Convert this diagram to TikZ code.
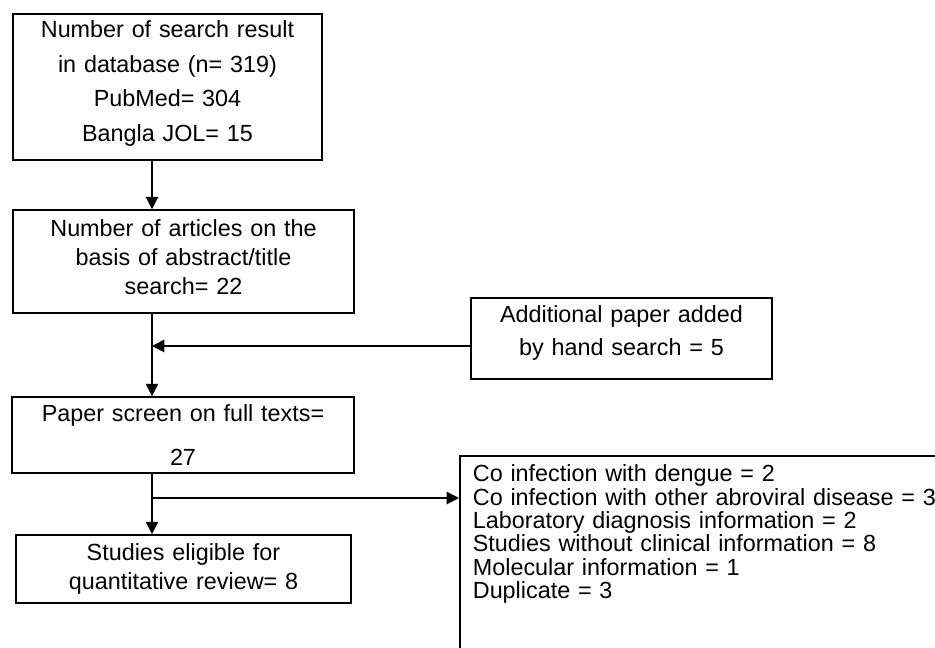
\documentclass[tikz,border=0pt]{standalone}
\usepackage{fontspec}
\setmainfont{Liberation Sans}
\usetikzlibrary{arrows.meta}

\begin{document}
\begin{tikzpicture}
[
  x=0.02cm, y=-0.02cm,
	box/.style={draw,line width=1pt,inner sep=0pt,align=center},
	excl/.style={draw,line width=1pt,anchor=north west,align=left,inner xsep=0.26cm,inner ysep=0.18cm,text width=12cm,text depth=5cm},
	flow/.style={-{Triangle[length=7pt,width=7pt]},line width=1pt}
]
\useasboundingbox (0,0) rectangle (935,647);
\clip (0,0) rectangle (935,647);

\node[box,text width=6.18cm,minimum height=2.92cm,text height=10pt,text depth=66.2pt,font={\fontsize{13.3}{19.7}\selectfont}] (search) at (167.5,87) {Number of search result\\ in database (n= 319)\\ PubMed= 304\\ Bangla JOL= 15};

\node[box,text width=6.82cm,minimum height=2.06cm,text height=10pt,text depth=38.4pt,font={\fontsize{13.3}{16.5}\selectfont}] (articles) at (183.5,261.5) {Number of articles on the\\ basis of abstract/title\\ search= 22};

\node[box,line width=0.7pt,text width=6.02cm,minimum height=1.62cm,text height=10pt,text depth=28.2pt,font={\fontsize{13.3}{18.7}\selectfont}] (added) at (621.5,338.5) {Additional paper added\\ by hand search = 5};

\node[box,text width=6.84cm,minimum height=1.52cm,font={\fontsize{13.3}{25.5}\selectfont}] (screen) at (183,435) {Paper screen on full texts=\\ 27};

\node[box,text width=6.7cm,minimum height=1.36cm,font={\fontsize{13.3}{17}\selectfont}] (eligible) at (183.5,569) {Studies eligible for\\ quantitative review= 8};

\node[excl,font={\fontsize{13.3}{13.3}\selectfont}] (excluded) at (459,455) {Co infection with dengue = 2\\ Co infection with other abroviral disease = 3\\ Laboratory diagnosis information = 2\\ Studies without clinical information = 8\\ Molecular information = 1\\ Duplicate = 3};

% main line
\coordinate (trunk) at (152,0);
\draw[flow] (search.south -| trunk) -- (articles.north -| trunk);
\draw[flow] (articles.south -| trunk) -- (screen.north -| trunk);
\draw[flow] (screen.south -| trunk) -- (eligible.north -| trunk);

% side arrows
\coordinate (join) at (152,346);
\draw[flow] (added.west |- join) -- (join);

\coordinate (split) at (152,498);
\draw[flow] (split) -- (split -| excluded.west);

\end{tikzpicture}
\end{document}
